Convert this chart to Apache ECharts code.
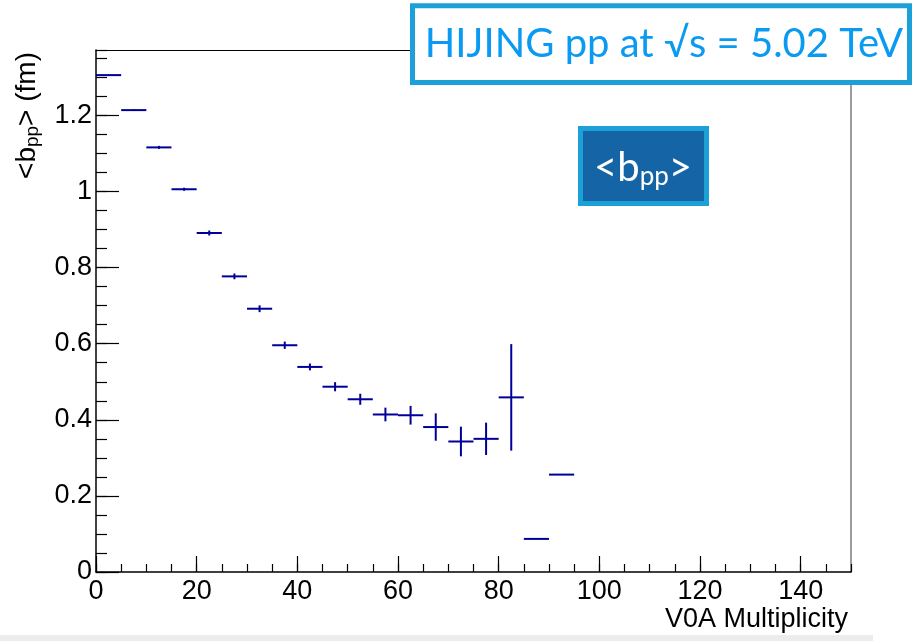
<!DOCTYPE html>
<html>
<head>
<meta charset="utf-8">
<script src="https://cdn.jsdelivr.net/npm/echarts@6/dist/echarts.min.js"></script>
<style>
  html, body { margin: 0; padding: 0; background: #ffffff; }
  #chart { width: 912px; height: 641px; }
</style>
</head>
<body>
<div id="chart"></div>
<script>
// V0A multiplicity bins (width 5) with the mean pp impact parameter <b_pp> in fm
const binLow  = [0, 5, 10, 15, 20, 25, 30, 35, 40, 45, 50, 55, 60, 65, 70, 75, 80, 85, 90];
const binHigh = [5, 10, 15, 20, 25, 30, 35, 40, 45, 50, 55, 60, 65, 70, 75, 80, 85, 90, 95];
const meanB   = [1.306, 1.214, 1.116, 1.006, 0.891, 0.777, 0.692, 0.596, 0.539, 0.487,
                 0.454, 0.414, 0.412, 0.381, 0.343, 0.350, 0.459, 0.087, 0.256];
const errB    = [0.001, 0.002, 0.004, 0.004, 0.0066, 0.0075, 0.009, 0.0096, 0.009, 0.012,
                 0.0145, 0.018, 0.0246, 0.036, 0.039, 0.0425, 0.140, 0, 0];

// Axis tick labels
const xTickLabels = [0, 20, 40, 60, 80, 100, 120, 140];
const yTickLabels = [0, 0.2, 0.4, 0.6, 0.8, 1, 1.2];

const X_MIN = 0, X_MAX = 150, Y_MIN = 0, Y_MAX = 1.372;

const FONT = '"Liberation Sans", Arial, Helvetica, sans-serif';
const BOX_FONT = 'Lato, "Open Sans", sans-serif';
const MARK = '#000099';

const points = binLow.map((lo, i) => [lo, binHigh[i], meanB[i], errB[i]]);

const chart = echarts.init(document.getElementById('chart'), null, { renderer: 'canvas' });

function near(list, v) {
  return list.some(t => Math.abs(t - v) < 1e-6);
}

const option = {
  backgroundColor: '#ffffff',
  animation: false,
  grid: { left: 96, right: 61, top: 50, bottom: 69, containLabel: false },
  xAxis: [
    {
      type: 'value', min: X_MIN, max: X_MAX, interval: 20, position: 'bottom',
      axisLine: { show: true, onZero: false, lineStyle: { color: '#000', width: 1.5 } },
      axisTick: { show: true, inside: true, length: 16, lineStyle: { color: '#000', width: 1.2 } },
      axisLabel: {
        show: true, margin: 6, fontSize: 27, fontFamily: FONT, color: '#000',
        showMaxLabel: false,
        formatter: v => near(xTickLabels, v) ? String(Math.round(v)) : ''
      },
      splitLine: { show: false }
    },
    {
      type: 'value', min: X_MIN, max: X_MAX, interval: 5, position: 'bottom',
      axisLine: { show: false },
      axisTick: { show: true, inside: true, length: 8, lineStyle: { color: '#000', width: 1.2 } },
      axisLabel: { show: false },
      splitLine: { show: false }
    },
    {
      type: 'value', min: X_MIN, max: X_MAX, position: 'top',
      axisLine: { show: true, onZero: false, lineStyle: { color: '#000', width: 1 } },
      axisTick: { show: false }, axisLabel: { show: false }, splitLine: { show: false }
    }
  ],
  yAxis: [
    {
      type: 'value', min: Y_MIN, max: Y_MAX, interval: 0.2, position: 'left',
      axisLine: { show: true, onZero: false, lineStyle: { color: '#000', width: 1.5 } },
      axisTick: { show: true, inside: true, length: 23, lineStyle: { color: '#000', width: 1.2 } },
      axisLabel: {
        show: true, margin: 4, fontSize: 27, fontFamily: FONT, color: '#000',
        showMaxLabel: false,
        formatter: v => near(yTickLabels, v) ? String(parseFloat(v.toFixed(1))) : ''
      },
      splitLine: { show: false }
    },
    {
      type: 'value', min: Y_MIN, max: Y_MAX, interval: 0.05, position: 'left',
      axisLine: { show: false },
      axisTick: { show: true, inside: true, length: 11, lineStyle: { color: '#000', width: 1.2 } },
      axisLabel: { show: false },
      splitLine: { show: false }
    },
    {
      type: 'value', min: Y_MIN, max: Y_MAX, position: 'right',
      axisLine: { show: true, onZero: false, lineStyle: { color: '#7a7a7a', width: 1.5 } },
      axisTick: { show: false }, axisLabel: { show: false }, splitLine: { show: false }
    }
  ],
  series: [
    {
      type: 'custom',
      xAxisIndex: 0,
      yAxisIndex: 0,
      clip: true,
      encode: { x: [0, 1], y: 2 },
      data: points,
      renderItem: function (params, api) {
        const lo = api.value(0), hi = api.value(1), y = api.value(2), e = api.value(3);
        const mid = (lo + hi) / 2;
        const pL = api.coord([lo, y]);
        const pR = api.coord([hi, y]);
        const pT = api.coord([mid, y + e]);
        const pB = api.coord([mid, y - e]);
        const st = { stroke: MARK, lineWidth: 2, fill: null };
        const children = [
          { type: 'line', shape: { x1: pL[0], y1: pL[1], x2: pR[0], y2: pR[1] }, style: st }
        ];
        if (e > 0) {
          children.push({ type: 'line', shape: { x1: pT[0], y1: pT[1], x2: pB[0], y2: pB[1] }, style: st });
        }
        return { type: 'group', children: children };
      }
    }
  ],
  graphic: [
    // light strip along the bottom edge
    { type: 'rect', left: 0, top: 635, z: 100, shape: { width: 873, height: 6 }, style: { fill: '#ececec' }, silent: true },
    // y-axis title
    {
      type: 'text', x: 27, y: 52, z: 100, rotation: Math.PI / 2, silent: true,
      style: {
        text: '{a|<b}{s|pp}{a|> (fm)}',
        align: 'right', verticalAlign: 'middle',
        rich: {
          a: { fontSize: 28, fontFamily: FONT, fill: '#000', lineHeight: 31 },
          s: { fontSize: 19, fontFamily: FONT, fill: '#000', lineHeight: 19, verticalAlign: 'bottom' }
        }
      }
    },
    // x-axis title
    {
      type: 'text', x: 848, y: 633, z: 100, silent: true,
      style: {
        text: 'V0A Multiplicity', align: 'right', verticalAlign: 'bottom',
        fontSize: 27, fontFamily: FONT, fill: '#000'
      }
    },
    // header box
    {
      type: 'rect', x: 412.5, y: 5.8, z: 100, silent: true,
      shape: { width: 497, height: 76.7 },
      style: { fill: '#ffffff', stroke: '#1ba1d8', lineWidth: 5 }
    },
    {
      type: 'text', x: 664, y: 44, z: 101, silent: true,
      style: {
        text: 'HIJING pp at \u221As = 5.02 TeV', align: 'center', verticalAlign: 'middle',
        fontSize: 40, fontFamily: BOX_FONT, fill: '#0a9af2'
      }
    },
    // quantity tag
    {
      type: 'rect', x: 580.5, y: 128.5, z: 100, silent: true,
      shape: { width: 126, height: 75 },
      style: { fill: '#1565a6', stroke: '#1ba1d8', lineWidth: 5 }
    },
    {
      type: 'text', x: 643, y: 168, z: 101, silent: true,
      style: {
        text: '{a|<b}{s|pp}{a|>}', align: 'center', verticalAlign: 'middle',
        rich: {
          a: { fontSize: 40, fontFamily: BOX_FONT, fill: '#ffffff', lineHeight: 44 },
          s: { fontSize: 26, fontFamily: BOX_FONT, fill: '#ffffff', lineHeight: 30, verticalAlign: 'bottom' }
        }
      }
    }
  ]
};

chart.setOption(option);
</script>
</body>
</html>
